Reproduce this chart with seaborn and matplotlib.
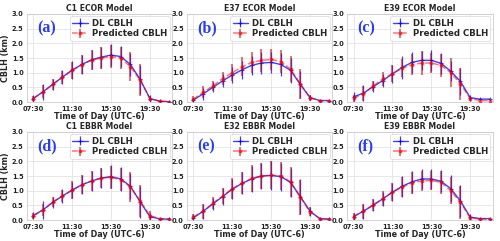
import numpy as np
import seaborn as sns
from matplotlib import pyplot as plt

hours = [7.5, 8.5, 9.5, 10.5, 11.5, 12.5, 13.5, 14.5, 15.5, 16.5, 17.5, 18.5, 19.5, 20.5, 21.5]
tick_pos = [7.5, 11.5, 15.5, 19.5]
tick_labels = ['07:30', '11:30', '15:30', '19:30']

titles = ['C1 ECOR Model', 'E37 ECOR Model', 'E39 ECOR Model',
          'C1 EBBR Model', 'E32 EBBR Model', 'E39 EBBR Model']
panel_tags = ['(a)', '(b)', '(c)', '(d)', '(e)', '(f)']

# DL CBLH (km)
dl_a = [0.12, 0.35, 0.60, 0.85, 1.09, 1.28, 1.44, 1.53, 1.60, 1.55, 1.28, 0.77, 0.12, 0.03, 0.01]
dl_b = [0.07, 0.28, 0.50, 0.72, 0.92, 1.10, 1.25, 1.33, 1.35, 1.28, 1.08, 0.60, 0.15, 0.05, 0.05]
dl_c = [0.18, 0.30, 0.52, 0.73, 0.96, 1.18, 1.35, 1.42, 1.42, 1.32, 1.05, 0.70, 0.15, 0.10, 0.10]
dl_d = [0.15, 0.35, 0.60, 0.82, 1.02, 1.20, 1.33, 1.43, 1.48, 1.40, 1.15, 0.62, 0.12, 0.04, 0.03]
dl_e = [0.08, 0.30, 0.55, 0.80, 1.05, 1.25, 1.40, 1.50, 1.52, 1.48, 1.28, 0.80, 0.30, 0.05, 0.03]
dl_f = [0.12, 0.30, 0.50, 0.72, 0.95, 1.15, 1.30, 1.40, 1.40, 1.32, 1.07, 0.65, 0.10, 0.05, 0.05]

# Predicted CBLH (km)
pr_a = [0.12, 0.35, 0.60, 0.85, 1.08, 1.27, 1.43, 1.50, 1.55, 1.50, 1.20, 0.75, 0.12, 0.03, 0.01]
pr_b = [0.10, 0.33, 0.55, 0.80, 1.00, 1.20, 1.35, 1.42, 1.45, 1.38, 1.12, 0.62, 0.15, 0.05, 0.05]
pr_c = [0.13, 0.28, 0.55, 0.78, 0.97, 1.15, 1.27, 1.33, 1.33, 1.25, 1.00, 0.62, 0.12, 0.05, 0.05]
pr_d = [0.15, 0.33, 0.62, 0.82, 1.02, 1.20, 1.33, 1.43, 1.45, 1.38, 1.12, 0.65, 0.15, 0.05, 0.03]
pr_e = [0.10, 0.30, 0.57, 0.82, 1.07, 1.25, 1.42, 1.50, 1.53, 1.50, 1.30, 0.78, 0.28, 0.05, 0.03]
pr_f = [0.12, 0.30, 0.52, 0.73, 0.95, 1.12, 1.27, 1.33, 1.35, 1.28, 1.00, 0.60, 0.08, 0.03, 0.03]

# standard deviations (km)
dl_sd_a = [0.12, 0.27, 0.20, 0.24, 0.30, 0.32, 0.33, 0.36, 0.38, 0.37, 0.40, 0.50, 0.12, 0, 0]
dl_sd_b = [0.08, 0.20, 0.17, 0.22, 0.28, 0.30, 0.33, 0.37, 0.35, 0.38, 0.42, 0.45, 0.08, 0, 0]
dl_sd_c = [0.15, 0.27, 0.18, 0.22, 0.30, 0.38, 0.35, 0.33, 0.35, 0.35, 0.35, 0.45, 0.10, 0, 0]
dl_sd_d = [0.12, 0.30, 0.20, 0.25, 0.28, 0.33, 0.35, 0.35, 0.38, 0.40, 0.45, 0.55, 0.12, 0, 0]
dl_sd_e = [0.12, 0.25, 0.20, 0.28, 0.35, 0.38, 0.45, 0.45, 0.48, 0.48, 0.50, 0.60, 0.15, 0, 0]
dl_sd_f = [0.12, 0.25, 0.20, 0.25, 0.30, 0.35, 0.38, 0.33, 0.33, 0.38, 0.45, 0.55, 0.10, 0, 0]

pr_sd_a = [0.10, 0.22, 0.18, 0.22, 0.30, 0.32, 0.34, 0.37, 0.38, 0.38, 0.50, 0.53, 0.10, 0, 0]
pr_sd_b = [0.10, 0.20, 0.18, 0.22, 0.30, 0.33, 0.35, 0.40, 0.35, 0.40, 0.45, 0.50, 0.10, 0, 0]
pr_sd_c = [0.12, 0.25, 0.18, 0.25, 0.30, 0.30, 0.35, 0.40, 0.35, 0.40, 0.50, 0.55, 0.10, 0, 0]
pr_sd_d = [0.10, 0.20, 0.17, 0.20, 0.30, 0.33, 0.35, 0.35, 0.38, 0.40, 0.50, 0.55, 0.15, 0, 0]
pr_sd_e = [0.12, 0.25, 0.20, 0.28, 0.35, 0.38, 0.45, 0.45, 0.48, 0.48, 0.50, 0.60, 0.15, 0, 0]
pr_sd_f = [0.12, 0.25, 0.20, 0.25, 0.30, 0.35, 0.38, 0.35, 0.33, 0.38, 0.45, 0.55, 0.10, 0, 0]

dl_all = [dl_a, dl_b, dl_c, dl_d, dl_e, dl_f]
pr_all = [pr_a, pr_b, pr_c, pr_d, pr_e, pr_f]
dl_sd_all = [dl_sd_a, dl_sd_b, dl_sd_c, dl_sd_d, dl_sd_e, dl_sd_f]
pr_sd_all = [pr_sd_a, pr_sd_b, pr_sd_c, pr_sd_d, pr_sd_e, pr_sd_f]

sns.set_theme(style='whitegrid')
plt.rcParams['font.family'] = ['DejaVu Sans']
plt.rcParams['font.weight'] = 'bold'

fig, axes = plt.subplots(2, 3, figsize=(5, 2.41), dpi=100)
fig.subplots_adjust(left=0.054, right=0.985, bottom=0.087, top=0.942,
                    wspace=0.103, hspace=0.34)

for i, ax in enumerate(axes.flat):
  ax.errorbar(hours, dl_all[i], yerr=dl_sd_all[i], color='blue', lw=1.0,
              marker='+', ms=3, mew=0.8, ecolor='blue', elinewidth=0.9,
              alpha=0.75, label='DL CBLH', zorder=3)
  ax.errorbar(hours, pr_all[i], yerr=pr_sd_all[i], color='red', lw=1.1,
              ls='--', marker='o', ms=1.8, ecolor='#b01020', elinewidth=1.5,
              alpha=0.55, label='Predicted CBLH', zorder=4)
  ax.set_xlim(6.85, 21.8)
  ax.set_ylim(0, 3.0)
  ax.set_xticks(tick_pos)
  ax.set_xticklabels(tick_labels)
  ax.set_yticks([0, 0.5, 1.0, 1.5, 2.0, 2.5, 3.0])
  ax.tick_params(axis='both', labelsize=4.8, pad=0.5, length=2, width=0.5,
                 colors='#222222')
  for lab in ax.get_xticklabels() + ax.get_yticklabels():
    lab.set_fontweight('bold')
  ax.grid(True, color='#e3e3e3', lw=0.6)
  for sp in ax.spines.values():
    sp.set_color('#cccccc')
    sp.set_linewidth(0.6)
  ax.set_title(titles[i], fontsize=5.6, fontweight='bold', pad=2)
  ax.set_xlabel('Time of Day (UTC-6)', fontsize=5.8, fontweight='bold', labelpad=0)
  if i % 3 == 0:
    ax.set_ylabel('CBLH (km)', fontsize=5.8, fontweight='bold', labelpad=1)
  ax.text(0.07, 0.84, panel_tags[i], transform=ax.transAxes,
          fontsize=11.5, fontweight='bold', color='#2a3cf0',
          family='Liberation Serif', va='center', ha='left')
  leg = ax.legend(loc='upper right', fontsize=6.2, frameon=True,
                  borderpad=0.3, handlelength=1.8, labelspacing=0.2,
                  handletextpad=0.5, borderaxespad=0.25)
  leg.get_frame().set_edgecolor('#cccccc')
  leg.get_frame().set_linewidth(0.5)
  for t in leg.get_texts():
    t.set_fontweight('bold')

fig.savefig('out.png', dpi=100)
